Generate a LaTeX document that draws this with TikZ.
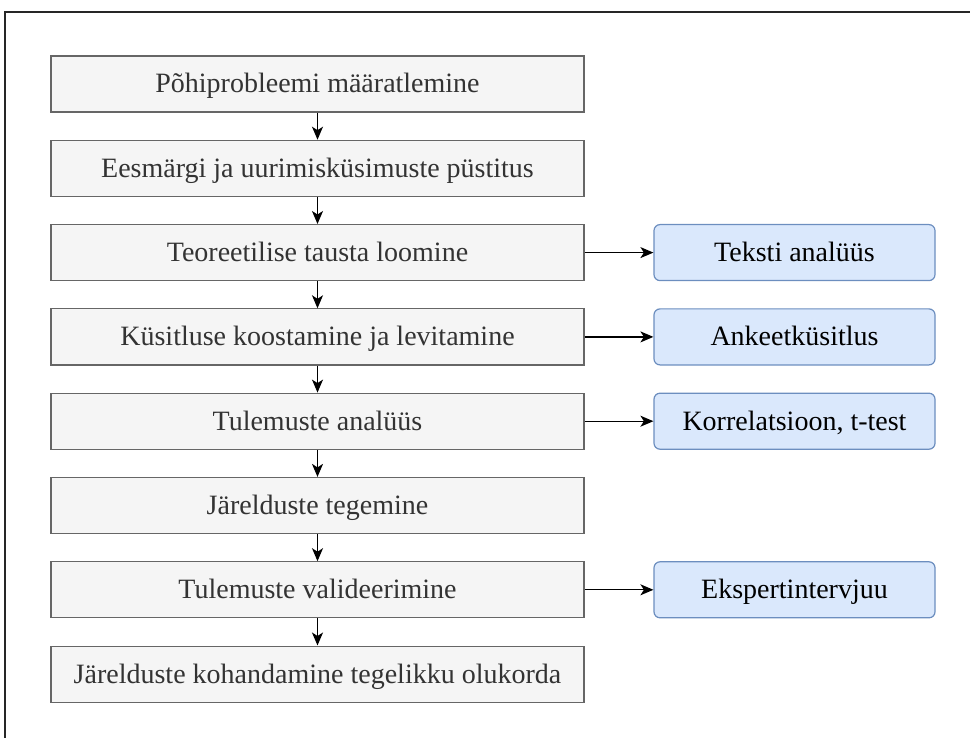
\documentclass[tikz,border=0pt]{standalone}
\usepackage{fontspec}
\setmainfont{Liberation Serif}
\usetikzlibrary{arrows.meta}
\definecolor{greyfill}{HTML}{F5F5F5}
\definecolor{greyline}{HTML}{666666}
\definecolor{greytext}{HTML}{333333}
\definecolor{bluefill}{HTML}{DAE8FC}
\definecolor{blueline}{HTML}{6C8EBF}
\begin{document}
\begin{tikzpicture}[x=1pt,y=-1pt,
  stepbox/.style={draw=greyline, fill=greyfill, line width=1.2pt,
    minimum width=533pt, minimum height=56pt, inner sep=0pt,
    text height=20pt, text depth=2pt,
    text=greytext, font=\fontsize{28}{32}\selectfont},
  methodbox/.style={draw=blueline, fill=bluefill, line width=1.2pt,
    rounded corners=6pt, minimum width=281pt, minimum height=56pt,
    inner sep=0pt, text height=20pt, text depth=2pt,
    text=black, font=\fontsize{28}{32}\selectfont},
  flow/.style={-{Stealth[length=13pt,width=11pt,inset=3.5pt]}, line width=1.3pt, black}]
\useasboundingbox (0,0) rectangle (970,738);
\clip (0,0) rectangle (970,738);
\draw[line width=2pt, black!85] (980,12) -- (5,12) -- (5,750);

\node[stepbox] (s1) at (317.5,84.0) {Põhiprobleemi määratlemine};
\node[stepbox] (s2) at (317.5,168.3) {Eesmärgi ja uurimisküsimuste püstitus};
\node[stepbox] (s3) at (317.5,252.6) {Teoreetilise tausta loomine};
\node[stepbox] (s4) at (317.5,336.9) {Küsitluse koostamine ja levitamine};
\node[stepbox] (s5) at (317.5,421.2) {Tulemuste analüüs};
\node[stepbox] (s6) at (317.5,505.5) {Järelduste tegemine};
\node[stepbox] (s7) at (317.5,589.8) {Tulemuste valideerimine};
\node[stepbox] (s8) at (317.5,674.1) {Järelduste kohandamine tegelikku olukorda};

\node[methodbox] (m3) at (794.5,252.6) {Teksti analüüs};
\node[methodbox] (m4) at (794.5,336.9) {Ankeetküsitlus};
\node[methodbox] (m5) at (794.5,421.2) {Korrelatsioon, t-test};
\node[methodbox] (m7) at (794.5,589.8) {Ekspertintervjuu};

\draw[flow] (s1) -- (s2);
\draw[flow] (s2) -- (s3);
\draw[flow] (s3) -- (s4);
\draw[flow] (s4) -- (s5);
\draw[flow] (s5) -- (s6);
\draw[flow] (s6) -- (s7);
\draw[flow] (s7) -- (s8);

\draw[flow] (s3) -- (m3);
\draw[flow] (s4) -- (m4);
\draw[flow] (s5) -- (m5);
\draw[flow] (s7) -- (m7);
\end{tikzpicture}
\end{document}
